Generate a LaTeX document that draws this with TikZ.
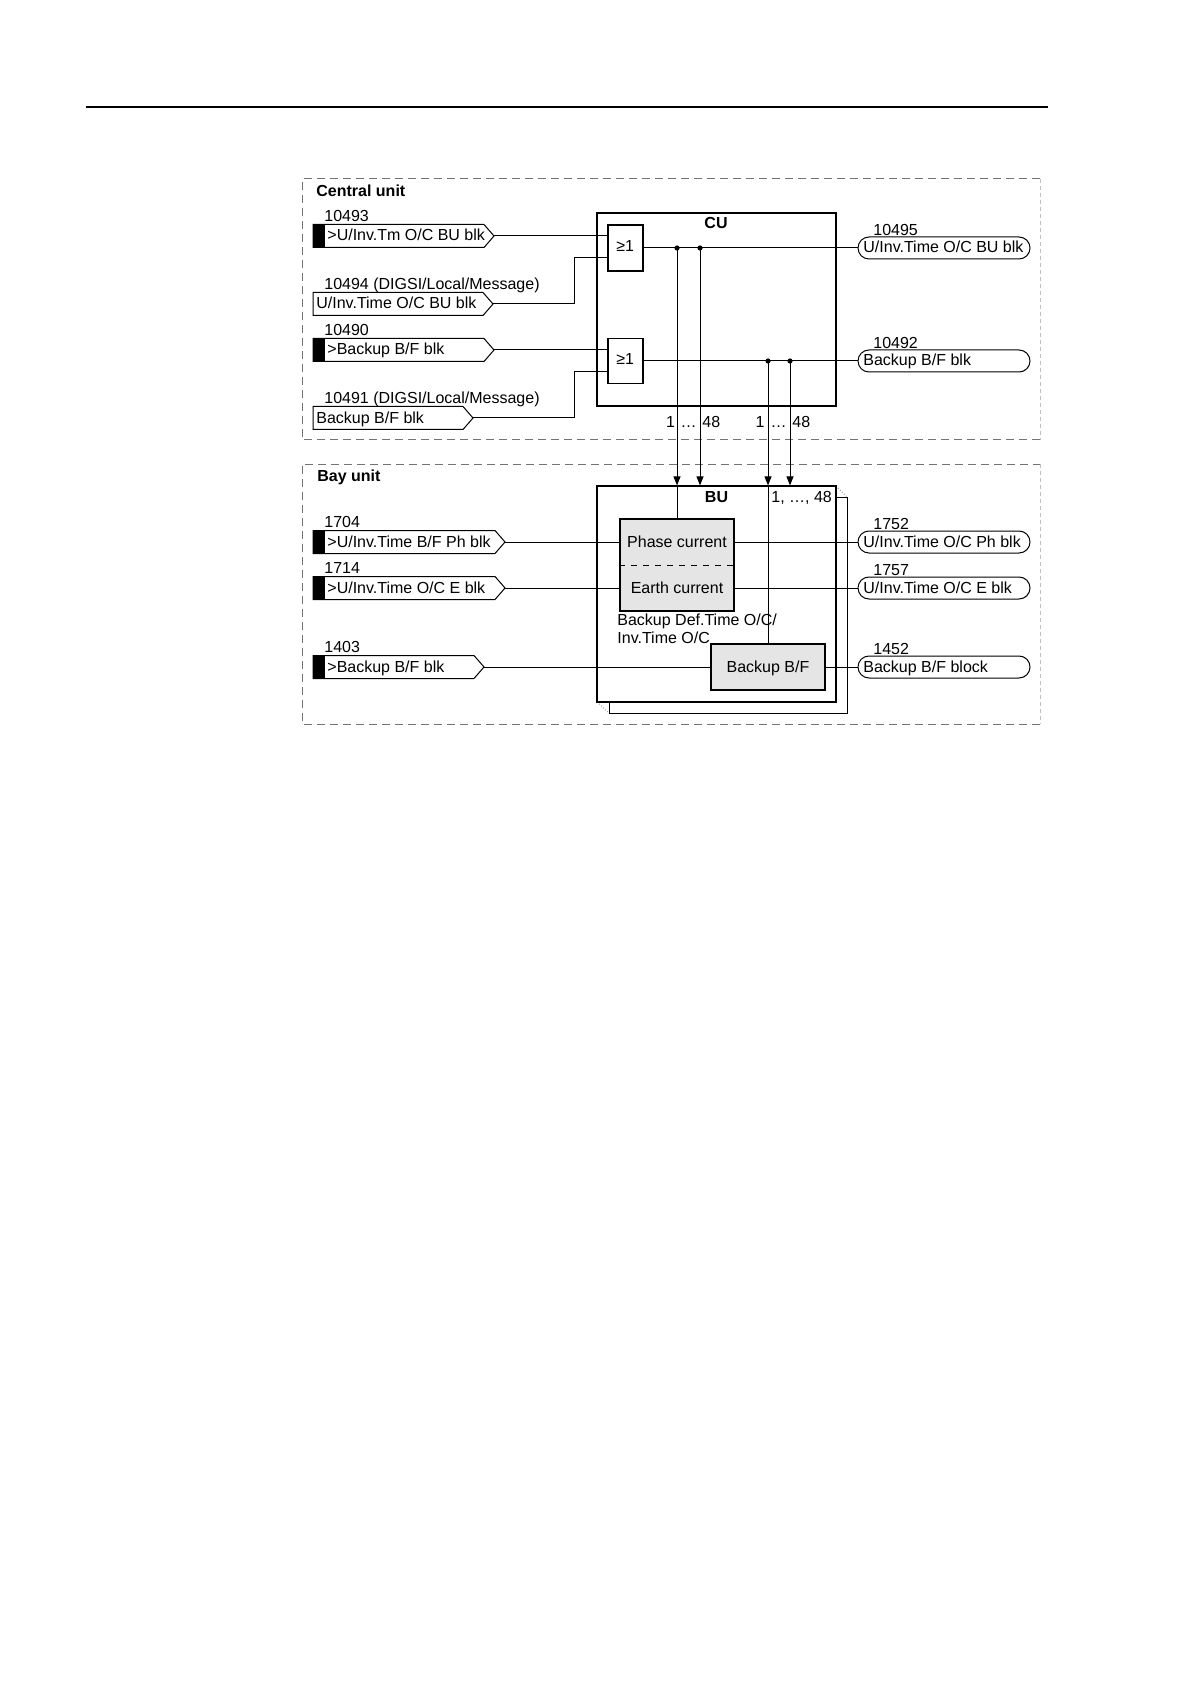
\documentclass[tikz,border=0pt]{standalone}
\usepackage{fontspec}
\setmainfont{Liberation Sans}
\usetikzlibrary{arrows.meta,calc}
\newcommand\InTag[6]{%
  \draw[tagline,fill=white] (313,#3-11.5) -- (#2-10,#3-11.5) -- (#2,#3) -- (#2-10,#3+11.5) -- (313,#3+11.5) -- cycle;
  \ifnum#5=1
    \fill (313,#3-11.5) rectangle (325,#3+11.5);
    \node[txt] (#1txt) at (327,#3+5) {#4};
  \else
    \node[txt] (#1txt) at (316,#3+5) {#4};
  \fi
  \coordinate (#1) at (#2,#3);
  \node[txt] (#1num) at (324,#3-14.5) {#6};
}
\newcommand\OutTag[4]{%
  \node[otag] (#1) at (944,#2) {};
  \node[txt] (#1txt) at (863,#2+5) {#3};
  \node[txt] (#1num) at (873,#2-12.5) {#4};
}
\begin{document}
\begin{tikzpicture}[x=0.5pt,y=-0.5pt,
  txt/.style={inner sep=0pt, anchor=base west, font=\fontsize{8}{9}\selectfont},
  ctxt/.style={txt, anchor=base},
  btxt/.style={txt, font=\fontsize{8}{9}\selectfont\bfseries},
  wire/.style={line width=0.5pt},
  tagline/.style={line width=0.5pt},
  box/.style={draw, line width=0.6pt, inner sep=0pt, fill=white},
  graybox/.style={box, fill=black!10},
  otag/.style={draw, line width=0.5pt, rounded corners=5.5pt, minimum width=86pt, minimum height=11pt, inner sep=0pt},
  region/.style={draw=black!55, line width=0.5pt, dash pattern=on 4pt off 2.5pt},
  regionr/.style={draw=black!25, line width=0.5pt, dash pattern=on 2pt off 1.5pt},
  arr/.style={wire, -{Triangle[length=4.5pt,width=3.5pt]}},
  dot/.style={fill=black}
]
\useasboundingbox (0,0) rectangle (1190,1684);
% header rule
\draw[line width=0.8pt] (86,107) -- (1048,107);

% ---------------- Central unit ----------------
\draw[region] (1040,440) -- (302,440) -- (302,179) -- (1040,179);
\draw[regionr] (1040,179) -- (1040,440);
\node[btxt] (cuttl) at (316,197) {Central unit};
\node[box, minimum width=119.5pt, minimum height=96.5pt] (cu) at (716.5,309.5) {};
\node[btxt, anchor=base] (cuname) at (716,229) {CU};
\node[box, minimum width=17.5pt, minimum height=23pt] (g1) at (625.5,248) {};
\node[txt] (g1t) at (616,252) {≥1};
\node[box, minimum width=17.5pt, minimum height=22.5pt] (g2) at (625.5,361) {};
\node[txt] (g2t) at (616,365) {≥1};

\InTag{t10493}{494}{236}{>U/Inv.Tm O/C BU blk}{1}{10493}
\InTag{t10494}{493}{304}{U/Inv.Time O/C BU blk}{0}{10494 (DIGSI/Local/Message)}
\InTag{t10490}{494}{350}{>Backup B/F blk}{1}{10490}
\InTag{t10491}{473}{418}{Backup B/F blk}{0}{10491 (DIGSI/Local/Message)}

\OutTag{o10495}{248}{U/Inv.Time O/C BU blk}{10495}
\OutTag{o10492}{361}{Backup B/F blk}{10492}

\draw[wire] (t10493) -- (t10493 -| g1.west);
\draw[wire] (t10494) -- (574,304) -- (574,258) -- (g1.west |- 574,258);
\draw[wire] (t10490) -- (t10490 -| g2.west);
\draw[wire] (t10491) -- (574,418) -- (574,372) -- (g2.west |- 574,372);
\draw[wire] (g1.east) -- (o10495.west);
\draw[wire] (g2.east) -- (o10492.west);

\coordinate (d1) at (677,248);
\coordinate (d2) at (700,248);
\coordinate (d3) at (768,361);
\coordinate (d4) at (790,361);
\foreach \d in {d1,d2,d3,d4} \fill[dot] (\d) circle (1.3pt);

\node[txt, anchor=base east] (n1a) at (675.5,428) {1};
\node[ctxt] (n1b) at (688.5,428) {…};
\node[txt] (n1c) at (702,428) {48};
\node[txt, anchor=base east] (n2a) at (765,428) {1};
\node[ctxt] (n2b) at (778.5,428) {…};
\node[txt] (n2c) at (792,428) {48};

% ---------------- Bay unit ----------------
\draw[region] (1040,724) -- (302,724) -- (302,464) -- (1040,464);
\draw[regionr] (1040,464) -- (1040,724);
\node[btxt] (buttl) at (317,481) {Bay unit};

% stacked shadow of BU
\draw[line width=0.5pt] (836,497) -- (847,497) -- (847,713) -- (609,713) -- (609,702);
\draw[black!50, densely dotted, line width=0.4pt] (836,486) -- (847,497);
\draw[black!50, densely dotted, line width=0.4pt] (597,702) -- (609,713);
\node[box, minimum width=119.5pt, minimum height=108pt] (bu) at (716.5,594) {};
\node[btxt, anchor=base] (buname) at (716.5,502) {BU};
\node[txt] (bun) at (771,502) {1, …, 48};

\node[graybox, minimum width=57pt, minimum height=46pt] (pe) at (677,565) {};
\draw[wire, dashed] (pe.west) -- (pe.east);
\node[ctxt] (phase) at (677,547) {Phase current};
\node[ctxt] (earth) at (677,593) {Earth current};
\node[txt] (bdt1) at (617,625) {Backup Def.Time O/C/};
\node[txt] (bdt2) at (617,643) {Inv.Time O/C};
\node[graybox, minimum width=57pt, minimum height=23pt] (bbf) at (768,667) {};
\node[ctxt] (bbft) at (768,672) {Backup B/F};

\InTag{t1704}{505}{542}{>U/Inv.Time B/F Ph blk}{1}{1704}
\InTag{t1714}{505}{588}{>U/Inv.Time O/C E blk}{1}{1714}
\InTag{t1403}{484}{667}{>Backup B/F blk}{1}{1403}

\OutTag{o1752}{542}{U/Inv.Time O/C Ph blk}{1752}
\OutTag{o1757}{588}{U/Inv.Time O/C E blk}{1757}
\OutTag{o1452}{667}{Backup B/F block}{1452}

\draw[wire] (t1704) -- (t1704 -| pe.west);
\draw[wire] (t1714) -- (t1714 -| pe.west);
\draw[wire] (t1403) -- (bbf.west);
\draw[wire] (pe.east |- o1752) -- (o1752.west);
\draw[wire] (pe.east |- o1757) -- (o1757.west);
\draw[wire] (bbf.east) -- (o1452.west);

% CU -> BU links
\draw[arr] (d1) -- (d1 |- bu.north);
\draw[wire] (d1 |- bu.north) -- (d1 |- pe.north);
\draw[arr] (d2) -- (d2 |- bu.north);
\draw[arr] (d3) -- (d3 |- bu.north);
\draw[wire] (d3 |- bu.north) -- (d3 |- bbf.north);
\draw[arr] (d4) -- (d4 |- bu.north);
\end{tikzpicture}
\end{document}
